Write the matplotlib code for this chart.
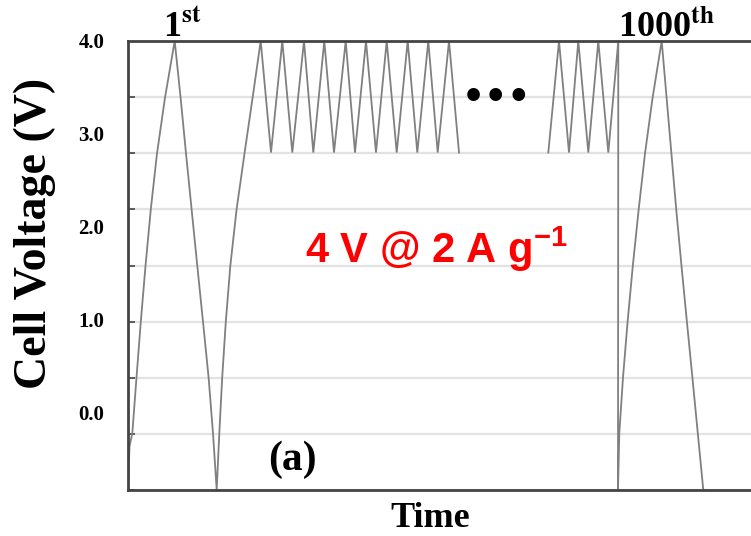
import numpy as np
import matplotlib
matplotlib.use("Agg")
import matplotlib.pyplot as plt

plt.rcParams["font.family"] = "Liberation Serif"
plt.rcParams["font.weight"] = "bold"
plt.rcParams["mathtext.fontset"] = "custom"
plt.rcParams["mathtext.rm"] = "Liberation Sans"
plt.rcParams["mathtext.bf"] = "Liberation Sans:bold"

# time in arbitrary units, cell voltage in V
cycle1_t = [0, 1.5, 4.3, 8.5, 12.8, 17.5, 22.8, 29.0, 37.0, 46.7,
            52.6, 58.0, 63.6, 69.3, 75.0, 80.6, 85.0, 88.7]
cycle1_v = [-0.83, -0.36, -0.22, 0.38, 0.98, 1.58, 2.19, 2.79, 3.39, 4.0,
            3.39, 2.79, 2.19, 1.58, 0.98, 0.38, -0.22, -0.83]
charge2_t = [91.3, 94.2, 97.8, 102.3, 108.6, 116.5, 124.6]
charge2_v = [-0.22, 0.38, 0.98, 1.58, 2.19, 2.79, 3.39]

v_high = 4.0
v_low = 2.8
early_peaks = [132.7, 154.3, 176.0, 196.3, 217.7, 238.0, 258.7, 279.7, 300.3, 321.0]
early_troughs = [143.0, 164.3, 185.3, 206.0, 227.0, 248.0, 268.7, 289.3, 309.7, 331.0]
late_troughs = [420.3, 441.0, 460.3, 480.3]
late_peaks = [431.0, 450.3, 470.3, 490.3]
break_t = 490.0

cycle1000_t = [491.3, 495.0, 499.6, 504.8, 510.6, 517.0, 524.6, 533.7,
               538.6, 543.4, 548.3, 553.5, 558.9, 564.4, 569.8, 575.3]
cycle1000_v = [-0.22, 0.38, 0.98, 1.58, 2.18, 2.79, 3.39, 4.0,
               3.39, 2.79, 2.18, 1.58, 0.98, 0.38, -0.22, -0.83]

y_ticks = [0.0, 1.0, 2.0, 3.0, 4.0]
y_min, y_max = -0.83, 4.0
t_max = 623


def zigzag(first, second, v_first, v_second):
    t = np.ravel(np.column_stack([first, second]))
    v = np.ravel(np.column_stack([[v_first] * len(first), [v_second] * len(second)]))
    return t, v


za_t, za_v = zigzag(early_peaks, early_troughs, v_high, v_low)
seg1_t = np.concatenate([cycle1_t, charge2_t, za_t])
seg1_v = np.concatenate([cycle1_v, charge2_v, za_v])

zb_t, zb_v = zigzag(late_troughs, late_peaks, v_low, v_high)
seg2_t = np.concatenate([zb_t, [break_t], cycle1000_t])
seg2_v = np.concatenate([zb_v, [y_min], cycle1000_v])

fig = plt.figure(figsize=(7.51, 5.36), dpi=100)
ax = fig.add_axes([128 / 751, 46 / 536, 623 / 751, 449 / 536])

line_kw = dict(color="#808080", lw=1.3, solid_joinstyle="miter")
ax.plot(seg1_t, seg1_v, **line_kw)
ax.plot(seg2_t, seg2_v, **line_kw)

ax.set_xlim(0, t_max)
ax.set_ylim(y_min, y_max)
ax.set_xticks([])
ax.set_yticks(y_ticks)
ax.set_yticklabels([f"{v:.1f}" for v in y_ticks])
ax.set_yticks(np.linspace(y_min, y_max, 9), minor=True)
ax.tick_params(axis="y", which="major", length=0, pad=17, labelsize=15)
ax.tick_params(axis="y", which="minor", direction="in", length=5, width=1.2, color="#444444")
ax.grid(True, which="minor", axis="y", color="#e2e2e2", lw=1.6)
ax.set_axisbelow(True)

for side in ["left", "bottom", "top"]:
    ax.spines[side].set_color("#444444")
    ax.spines[side].set_linewidth(2.0)
ax.spines["right"].set_visible(False)

ax.set_ylabel("Cell Voltage (V)", fontsize=33, fontweight="bold", va="center")
ax.yaxis.set_label_coords(-0.1493, 0.572)
ax.set_xlabel("Time", fontsize=26, fontweight="bold", va="baseline")
ax.xaxis.set_label_coords(0.4848, -0.083)

ax.text(0.0562, 1.0096, r"1$^{\mathbf{st}}$", transform=ax.transAxes, fontsize=26,
        fontweight="bold", va="baseline", ha="left", math_fontfamily="stix")
ax.text(0.7865, 1.0096, r"1000$^{\mathbf{th}}$", transform=ax.transAxes, fontsize=26,
        fontweight="bold", va="baseline", ha="left", math_fontfamily="stix")
ax.text(0.2252, 0.0445, "(a)", transform=ax.transAxes, fontsize=30,
        fontweight="bold", va="baseline", ha="left")
ax.text(0.2841, 0.5049, r"4 V @ 2 A g$^{\mathbf{-1}}$", transform=ax.transAxes,
        fontsize=30, fontweight="bold", family="Liberation Sans", color="red",
        va="baseline", ha="left", math_fontfamily="custom")
ax.text(0.592, 0.872, "\u2022\u2022\u2022", transform=ax.transAxes, fontsize=26,
        family="DejaVu Sans", va="center", ha="center", color="black")

fig.savefig("out.png", dpi=100)
